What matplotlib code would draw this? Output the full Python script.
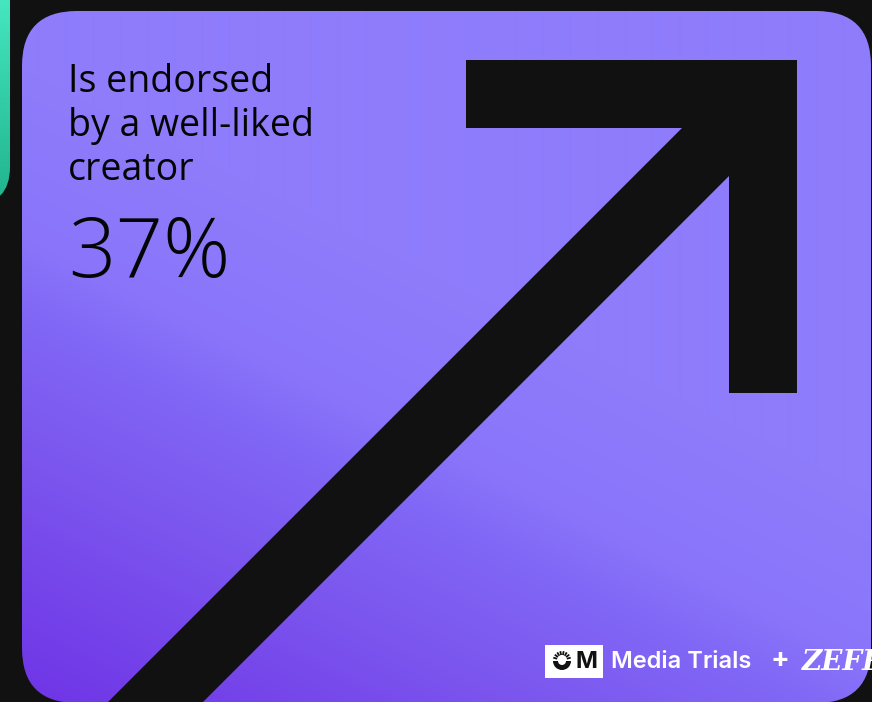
import numpy as np
import matplotlib
matplotlib.use("Agg")
import matplotlib.pyplot as plt
from matplotlib.patches import FancyBboxPatch, Polygon, Rectangle, Wedge
from matplotlib.colors import LinearSegmentedColormap, to_rgb

# data
label_lines = ["Is endorsed", "by a well-liked", "creator"]
share_pct = 37
brand_text = "Media Trials"
partner_text = "ZEFR"

W, H = 872, 702
fig = plt.figure(figsize=(W / 100, H / 100), dpi=100)
fig.patch.set_facecolor("#111111")
ax = fig.add_axes([0, 0, 1, 1])
ax.set_xlim(0, W)
ax.set_ylim(H, 0)
ax.axis("off")

# teal card peeking in at the left
teal = FancyBboxPatch((-80, -80), 90, 285, boxstyle="round,pad=0,rounding_size=38",
                      facecolor="none", edgecolor="none")
ax.add_patch(teal)
tg = np.linspace(0, 1, 200).reshape(-1, 1)
teal_cmap = LinearSegmentedColormap.from_list("t", ["#45E6C0", "#1FB38C"])
im_t = ax.imshow(tg, cmap=teal_cmap, extent=[0, 12, 205, 0], aspect="auto", zorder=1)
im_t.set_clip_path(teal)

# purple card, diagonal gradient (dark toward bottom-left)
card = FancyBboxPatch((22, 11), 849, 692, boxstyle="round,pad=0,rounding_size=55",
                      facecolor="none", edgecolor="none", zorder=2)
ax.add_patch(card)
xx, yy = np.meshgrid(np.arange(0, W) + 0.5, np.arange(0, H) + 0.5)
v = yy - 0.5 * xx
stops = [60, 225, 295, 445, 690]
cols = np.array([to_rgb(c) for c in ["#8E7CFB", "#8A75FA", "#8168F6", "#7B55EE", "#6F34E6"]])
rgb = np.dstack([np.interp(v, stops, cols[:, k]) for k in range(3)])
im = ax.imshow(rgb, extent=[0, W, H, 0], aspect="auto", zorder=2, interpolation="bilinear")
im.set_clip_path(card)

# arrow
arrow = Polygon([(466, 60), (797, 60), (797, 393), (729, 393), (729, 176),
                 (129, 776), (34, 776), (682, 128), (466, 128)],
                closed=True, facecolor="#111111", edgecolor="none", zorder=3)
ax.add_patch(arrow)
arrow.set_clip_path(card)

# text
font = ["Open Sans", "DejaVu Sans"]
for i, line in enumerate(label_lines):
    ax.text(68, 92 + i * 44, line, fontsize=27, family=font, fontweight="normal",
            color="#050505", va="baseline", ha="left", zorder=4)
ax.text(68, 277, f"{share_pct}%", fontsize=60, family=font, fontweight="light",
        color="#050505", va="baseline", ha="left", zorder=4)

# footer logos
ax.add_patch(Rectangle((545, 645), 58, 33, facecolor="white", edgecolor="none", zorder=4))
ax.add_patch(Wedge((562, 661), 9, 0, 180, width=5, facecolor="#111111", zorder=5))
for a in np.linspace(195, 345, 8):
    r = np.deg2rad(a)
    ax.plot([562 + 5 * np.cos(r), 562 + 9 * np.cos(r)],
            [660 + 5 * np.sin(r), 660 + 9 * np.sin(r)],
            color="#111111", lw=1.3, solid_capstyle="butt", zorder=5)
ax.text(586, 662, "M", fontsize=17, family=["Inter", "DejaVu Sans"], fontweight="bold",
        color="#111111", va="center", ha="center", zorder=5)
ax.text(611, 662, brand_text, fontsize=17, family=["Inter", "DejaVu Sans"],
        fontweight="semibold", color="white", va="center", ha="left", zorder=4)
ax.text(780, 660, "+", fontsize=20, family=["Inter", "DejaVu Sans"], fontweight="bold",
        color="white", va="center", ha="center", zorder=4)
z = ax.text(802, 662, partner_text, fontsize=20, family=["DejaVu Serif"], fontweight="bold",
            fontstyle="italic", color="white", va="center", ha="left", zorder=4)
z.set_clip_path(card)

fig.savefig("out.png", dpi=100, facecolor=fig.get_facecolor())
